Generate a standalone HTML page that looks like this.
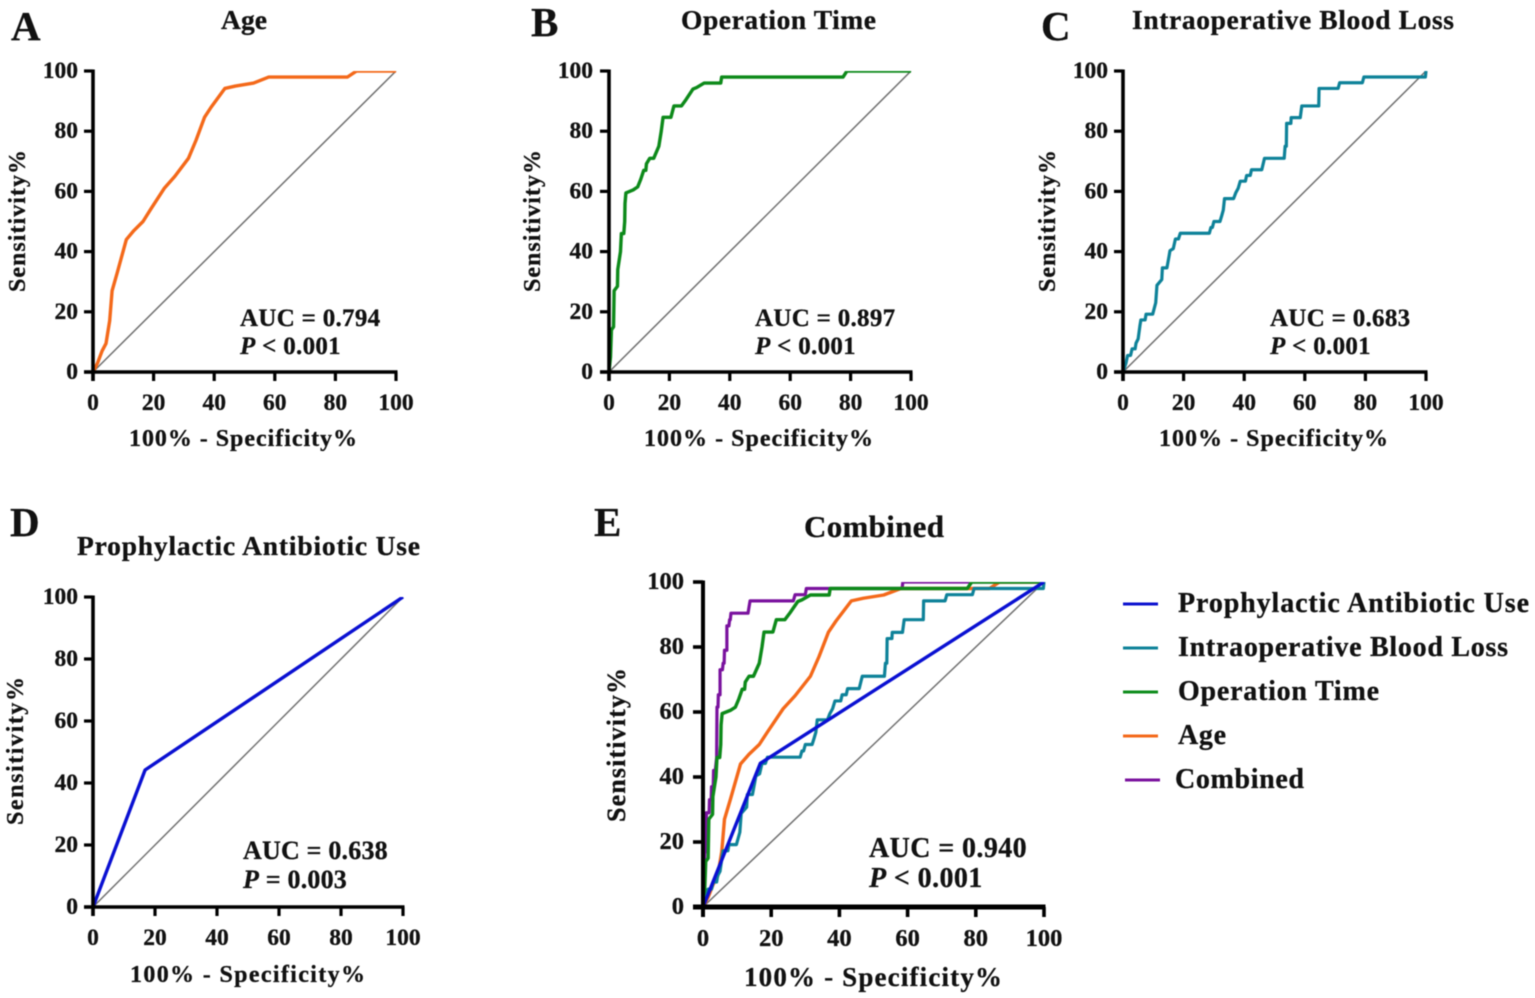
<!DOCTYPE html>
<html lang="en">
<head>
<meta charset="utf-8">
<title>ROC curves</title>
<style>
html,body{margin:0;padding:0;background:#fff;width:1535px;height:998px;overflow:hidden}
#figure{display:block;filter:blur(0.55px)}
text{font-family:"Liberation Serif",serif;font-weight:700;fill:#111;stroke:#111;stroke-width:0.3px}
</style>
</head>
<body>
<svg id="figure" xmlns="http://www.w3.org/2000/svg" width="1535" height="998" viewBox="0 0 1535 998">
  <rect x="0" y="0" width="1535" height="998" fill="#fff"/>
  <g id="plots"></g>
  <g font-size="41">
    <text x="11" y="40">A</text>
    <text x="531" y="36">B</text>
    <text x="1041" y="40">C</text>
    <text x="10" y="536">D</text>
    <text x="594" y="536">E</text>
  </g>
  <g font-size="27.5">
    <text x="221" y="29" textLength="46">Age</text>
    <text x="681" y="29" textLength="195">Operation Time</text>
    <text x="1132" y="29" textLength="322">Intraoperative Blood Loss</text>
    <text x="77" y="555" textLength="343">Prophylactic Antibiotic Use</text>
    <text x="804" y="537" textLength="140" font-size="31">Combined</text>
  </g>
  <g font-size="24">
    <text x="129" y="446" textLength="228">100% - Specificity%</text>
    <text x="644" y="446" textLength="229">100% - Specificity%</text>
    <text x="1159" y="446" textLength="229">100% - Specificity%</text>
    <text x="130" y="982" textLength="235">100% - Specificity%</text>
    <text x="744" y="986" textLength="258" font-size="27">100% - Specificity%</text>
  </g>
  <g font-size="24">
    <text transform="translate(25 292) rotate(-90)" textLength="142">Sensitivity%</text>
    <text transform="translate(540 292) rotate(-90)" textLength="142">Sensitivity%</text>
    <text transform="translate(1055 292) rotate(-90)" textLength="142">Sensitivity%</text>
    <text transform="translate(23 825) rotate(-90)" textLength="148">Sensitivity%</text>
    <text transform="translate(625 822) rotate(-90)" textLength="154" font-size="26">Sensitivity%</text>
  </g>
  <g font-size="25" letter-spacing="0.3">
    <text x="240" y="326">AUC = 0.794</text>
    <text x="240" y="354"><tspan font-style="italic">P</tspan> &lt; 0.001</text>
    <text x="755" y="326">AUC = 0.897</text>
    <text x="755" y="354"><tspan font-style="italic">P</tspan> &lt; 0.001</text>
    <text x="1270" y="326">AUC = 0.683</text>
    <text x="1270" y="354"><tspan font-style="italic">P</tspan> &lt; 0.001</text>
    <text x="243" y="859" font-size="26" letter-spacing="0.2">AUC = 0.638</text>
    <text x="243" y="888" font-size="26" letter-spacing="0.2"><tspan font-style="italic">P</tspan> = 0.003</text>
    <text x="869" y="857" font-size="28" letter-spacing="0.4">AUC = 0.940</text>
    <text x="869" y="887" font-size="28" letter-spacing="0.4"><tspan font-style="italic">P</tspan> &lt; 0.001</text>
  </g>
  <g font-size="28">
    <line x1="1123" x2="1158" y1="604" y2="604" stroke="#0c12cf" stroke-width="3"/>
    <text x="1178" y="612" textLength="351">Prophylactic Antibiotic Use</text>
    <line x1="1123" x2="1158" y1="648" y2="648" stroke="#0e8299" stroke-width="3"/>
    <text x="1178" y="656" textLength="330">Intraoperative Blood Loss</text>
    <line x1="1123" x2="1158" y1="692" y2="692" stroke="#0f8c1c" stroke-width="3"/>
    <text x="1178" y="700" textLength="201">Operation Time</text>
    <line x1="1123" x2="1158" y1="736" y2="736" stroke="#f4691a" stroke-width="3"/>
    <text x="1178" y="744" textLength="48">Age</text>
    <line x1="1125" x2="1160" y1="780" y2="780" stroke="#7a129e" stroke-width="3"/>
    <text x="1175" y="788" textLength="129">Combined</text>
  </g>
</svg>
<script>
const tickValues = [0, 20, 40, 60, 80, 100];
const tickLabels = ["0", "20", "40", "60", "80", "100"];
const referenceX = [0, 100];
const referenceY = [0, 100];

const ageX = [0, 1.5, 3, 4.3, 5.5, 6.3, 8, 11, 13.5, 16.5, 19, 23.5, 27, 31.5, 34, 36.8, 39, 43.5, 47, 53, 58, 84, 87, 100];
const ageY = [0, 3, 7, 9.5, 17, 27, 33, 44, 47, 50, 54, 61, 65, 71, 77, 84.6, 88, 94.2, 95, 96, 98, 98, 100, 100];

const operationX = [0, 0.5, 0.8, 1.5, 1.7, 2.8, 2.9, 3.8, 4.1, 4.9, 5.2, 5.3, 5.6, 8, 9.5, 10.5, 11.5, 12.2, 12.4, 13.5, 14.8, 16.5, 17.3, 17.9, 20.5, 21.5, 24, 25.5, 27.8, 29, 31.5, 37, 37.3, 77.5, 78.8, 100];
const operationY = [0, 5, 14, 15, 27, 28.5, 34, 40, 46, 46, 50, 56, 59.5, 60.5, 61.5, 64, 67, 67, 69.2, 71, 71, 75, 80, 84.6, 84.6, 88.4, 88.4, 90.5, 94, 94.5, 96, 96, 98, 98, 100, 100];

const bloodLossX = [0, 1, 1.5, 2.5, 3, 4, 4.3, 5, 5.6, 5.9, 7.3, 7.6, 9.8, 10.8, 11.2, 12.8, 13, 14.5, 15.2, 15.5, 16.6, 17.3, 18.3, 18.9, 28.5, 29, 29.5, 30, 32, 32.6, 33.1, 33.5, 36.5, 37.2, 38, 38.7, 40.4, 40.8, 42, 42.4, 45.8, 46.7, 53.2, 53.5, 53.9, 54, 55.4, 55.5, 58.5, 59, 64.6, 64.7, 71, 71.5, 79, 79.5, 99.6, 99.8, 100];
const bloodLossY = [0, 3, 5.5, 5.5, 7.7, 7.7, 9.6, 11, 15.5, 17.3, 17.3, 19.2, 19.2, 23, 28.8, 30.7, 34.6, 34.6, 38.5, 40.3, 41, 44.2, 44.2, 46.1, 46.1, 48, 48, 50, 50, 52, 53.8, 57.6, 57.6, 59.5, 61, 63.4, 63.4, 65.3, 65.3, 67.2, 67.2, 71, 71, 75, 75, 82.6, 82.6, 84.5, 84.5, 88.4, 88.4, 94.2, 94.2, 96.1, 96.1, 98, 98, 98, 100];

const antibioticX = [0, 16.8, 100];
const antibioticY = [0, 44.2, 100];

const combinedX = [0, 0.3, 0.5, 1, 1, 1.8, 1.9, 2.4, 2.5, 3, 3.1, 3.6, 4, 4.1, 4.4, 4.5, 5, 5, 5.7, 5.9, 6.2, 6.3, 7, 7, 7.6, 7.8, 8, 8.2, 13.2, 13.5, 13.8, 26.5, 27, 30, 30.3, 58.4, 58.6, 78.5, 100];
const combinedY = [0, 5, 17, 17, 29, 29, 33, 33, 37, 37, 42, 42, 46, 61.5, 61.5, 65.3, 65.3, 73, 73, 75, 75, 79, 79, 86.5, 86.5, 88.4, 88.4, 90.4, 90.4, 92.3, 94.2, 94.2, 96.1, 96.1, 98, 98, 100, 100, 100];

const SVG_NS = "http://www.w3.org/2000/svg";
const plotsRoot = document.getElementById("plots");

const panelLayouts = [
  {id: "a", left: 93, right: 396, bottom: 372, top: 71, axis: 3.6, xAxis: 3.6, tick: 9, font: 23.5, xLabelY: 410, yLabelX: 78},
  {id: "b", left: 609, right: 911, bottom: 372, top: 71, axis: 3.6, xAxis: 3.6, tick: 9, font: 23.5, xLabelY: 410, yLabelX: 593},
  {id: "c", left: 1123, right: 1426, bottom: 372, top: 71, axis: 3.6, xAxis: 3.6, tick: 9, font: 23.5, xLabelY: 410, yLabelX: 1108},
  {id: "d", left: 93, right: 403, bottom: 907, top: 597, axis: 3.6, xAxis: 3.6, tick: 9, font: 23.5, xLabelY: 945, yLabelX: 78},
  {id: "e", left: 703, right: 1044, bottom: 907, top: 582, axis: 4, xAxis: 5, tick: 10, font: 24.5, xLabelY: 946, yLabelX: 684}
];

function xScale(panel, value) {
  return panel.left + (value / 100) * (panel.right - panel.left);
}
function yScale(panel, value) {
  return panel.bottom - (value / 100) * (panel.bottom - panel.top);
}
function pathFrom(panel, xs, ys) {
  return xs.map(function (v, i) {
    return (i ? "L" : "M") + xScale(panel, v).toFixed(2) + " " + yScale(panel, ys[i]).toFixed(2);
  }).join(" ");
}
function make(tag, parent, attrs) {
  const node = document.createElementNS(SVG_NS, tag);
  Object.keys(attrs).forEach(function (k) { node.setAttribute(k, attrs[k]); });
  parent.appendChild(node);
  return node;
}

function drawCurve(panel, group, clipId, xs, ys, color, width, name) {
  const curve = make("path", group, {
    d: pathFrom(panel, xs, ys), fill: "none", stroke: color, "stroke-width": width,
    "stroke-linejoin": "round", "clip-path": "url(#" + clipId + ")"
  });
  
  
}

function drawAxes(panel, group) {
  const yAxis = make("line", group, {
    x1: panel.left, x2: panel.left, y1: panel.top - 1.5, y2: panel.bottom + panel.tick,
    stroke: "#000", "stroke-width": panel.axis
  });
  
  
  const xAxis = make("line", group, {
    x1: panel.left - panel.tick, x2: panel.right + 1.5, y1: panel.bottom, y2: panel.bottom,
    stroke: "#000", "stroke-width": panel.xAxis
  });
  
  
  tickValues.forEach(function (value, i) {
    const px = xScale(panel, value);
    const py = yScale(panel, value);
    const xTick = make("line", group, {
      x1: px, x2: px, y1: panel.bottom, y2: panel.bottom + panel.tick, stroke: "#000", "stroke-width": panel.axis - 0.4
    });
    
    
    const yTick = make("line", group, {
      x1: panel.left - panel.tick, x2: panel.left, y1: py, y2: py, stroke: "#000", "stroke-width": panel.axis - 0.4
    });
    
    
    const xLabel = make("text", group, {
      x: px, y: panel.xLabelY, "text-anchor": "middle", "font-size": panel.font
    });
    xLabel.textContent = tickLabels[i];
    
    
    const yLabel = make("text", group, {
      x: panel.yLabelX, y: py + 7, "text-anchor": "end", "font-size": panel.font
    });
    yLabel.textContent = tickLabels[i];
    
    
  });
}

function drawPanel(panel, curves) {
  const group = make("g", plotsRoot, {});
  
  
  const clipId = "clip-" + panel.id;
  const clip = make("clipPath", group, {id: clipId});
  make("rect", clip, {
    x: panel.left - 4, y: panel.top, width: panel.right - panel.left + 6, height: panel.bottom - panel.top + 4
  });
  drawCurve(panel, group, clipId, referenceX, referenceY, "#707070", 1.5, "reference-diagonal");
  curves.forEach(function (c) {
    drawCurve(panel, group, clipId, c.xs, c.ys, c.color, c.width, c.name);
  });
  drawAxes(panel, group);
}

const ageStyle = {xs: ageX, ys: ageY, color: "#f4691a", width: 3.4, name: "age-curve"};
const operationStyle = {xs: operationX, ys: operationY, color: "#0d8a1a", width: 3.4, name: "operation-time-curve"};
const bloodStyle = {xs: bloodLossX, ys: bloodLossY, color: "#0e8299", width: 3.2, name: "blood-loss-curve"};
const antibioticStyle = {xs: antibioticX, ys: antibioticY, color: "#0a10d2", width: 3.4, name: "antibiotic-curve"};
const combinedStyle = {xs: combinedX, ys: combinedY, color: "#7a129e", width: 3.2, name: "combined-curve"};

drawPanel(panelLayouts[0], [ageStyle]);
drawPanel(panelLayouts[1], [operationStyle]);
drawPanel(panelLayouts[2], [bloodStyle]);
drawPanel(panelLayouts[3], [antibioticStyle]);
drawPanel(panelLayouts[4], [combinedStyle, ageStyle, operationStyle, bloodStyle, antibioticStyle]);
</script>
</body>
</html>
